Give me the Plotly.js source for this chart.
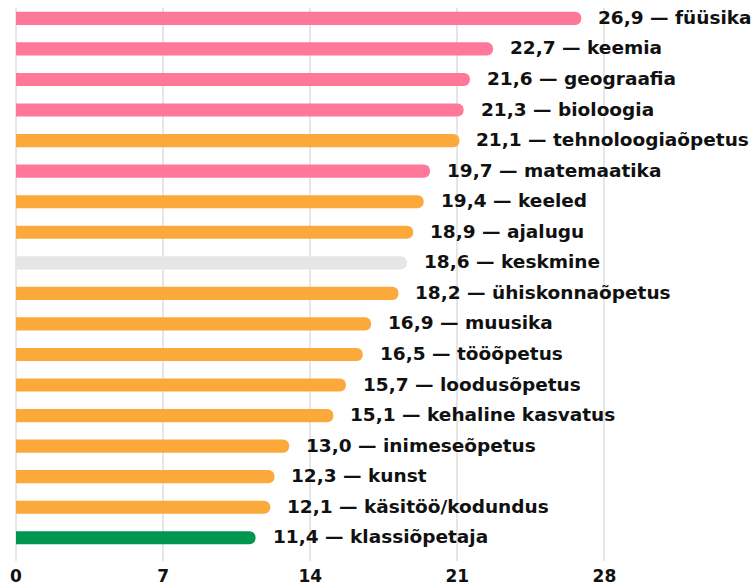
<!DOCTYPE html>
<html><head><meta charset="utf-8">
<script src="https://cdn.plot.ly/plotly-3.0.1.min.js"></script>
<style>html,body{margin:0;padding:0;background:#fff;}#chart{width:753px;height:587px;}</style>
</head><body><div id="chart"></div>
<script>
const subjects = ["füüsika","keemia","geograafia","bioloogia","tehnoloogiaõpetus","matemaatika","keeled","ajalugu","keskmine","ühiskonnaõpetus","muusika","tööõpetus","loodusõpetus","kehaline kasvatus","inimeseõpetus","kunst","käsitöö/kodundus","klassiõpetaja"];
const values = [26.9,22.7,21.6,21.3,21.1,19.7,19.4,18.9,18.6,18.2,16.9,16.5,15.7,15.1,13.0,12.3,12.1,11.4];
const groups = ["r","r","r","r","h","r","h","h","k","h","h","h","h","h","h","h","h","c"];
const groupColors = {r:"#FF7899", h:"#FBA93B", k:"#E6E6E6", c:"#00964F"};
const tickVals = [0,7,14,21,28];

const fmt = v => v.toFixed(1).replace(".", ",");
const colors = groups.map(g => groupColors[g]);
const annotations = subjects.map((s,i) => ({
  x: values[i], y: s, xref:"x", yref:"y", xanchor:"left", yanchor:"middle",
  xshift: 15, yshift: 1, showarrow:false, text: fmt(values[i]) + " — " + s,
  font:{family:"DejaVu Sans", size:18.5, color:"#111", weight:700}
}));

Plotly.newPlot("chart", [{
  type:"bar", orientation:"h", x: values, y: subjects,
  marker:{color: colors, cornerradius: 7}, width: 0.43,
  hoverinfo:"none"
}], {
  width:753, height:587,
  margin:{l:16, r:0, t:8, b:26},
  paper_bgcolor:"#fff", plot_bgcolor:"#fff",
  showlegend:false,
  xaxis:{range:[0,35.07], tickvals:tickVals, ticktext:tickVals.map(String),
    showgrid:true, gridcolor:"#e6e6e6", gridwidth:2, zeroline:true, zerolinecolor:"#e6e6e6", zerolinewidth:2,
    showline:false, ticks:"", ticklabelstandoff:3, tickfont:{family:"DejaVu Sans", size:17, color:"#111", weight:700}, fixedrange:true},
  yaxis:{type:"category", range:[17.76,-0.34], showticklabels:false, showgrid:false, zeroline:false, showline:false, ticks:"", fixedrange:true},
  annotations: annotations
}, {displayModeBar:false, staticPlot:true});
</script>
</body></html>
